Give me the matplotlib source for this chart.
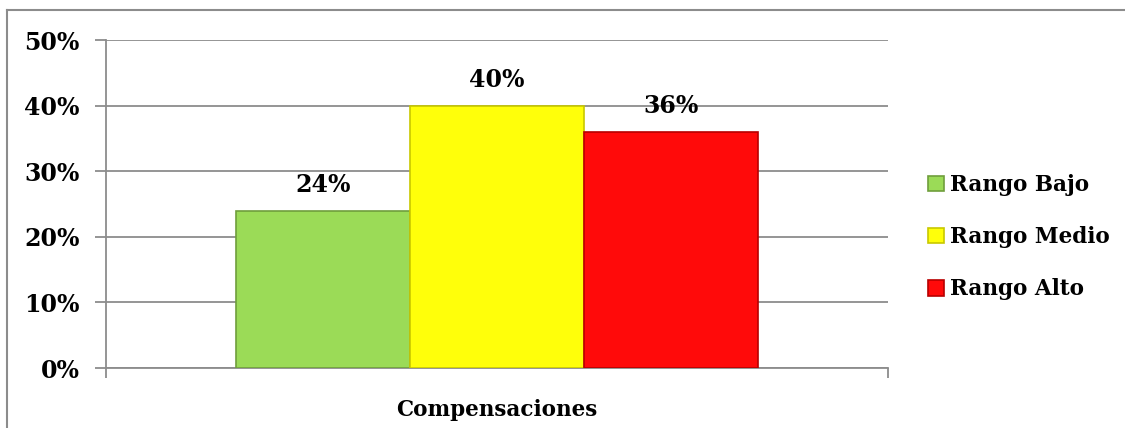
import matplotlib
matplotlib.use("Agg")
import matplotlib.pyplot as plt
from matplotlib.lines import Line2D
from matplotlib.ticker import PercentFormatter

# data
category = "Compensaciones"
series = ["Rango Bajo", "Rango Medio", "Rango Alto"]
values = [0.24, 0.40, 0.36]
colors = ["#9bdb57", "#ffff0a", "#ff0a0a"]
edges = ["#6f9e3c", "#c8c800", "#b80000"]
yticks = [0, 0.1, 0.2, 0.3, 0.4, 0.5]

plt.rcParams["font.family"] = ["DejaVu Serif"]
plt.rcParams["font.weight"] = "bold"
FS_NUM = 17   # tick labels and data labels
FS_TXT = 15.5  # category label and legend

fig = plt.figure(figsize=(11.25, 4.28), dpi=100)
ax = fig.add_axes([0.0942, 0.140, 0.695, 0.7664])

# outer frame (top and left only, like the cropped screenshot)
fig.add_artist(Line2D([7/1125, 1], [1 - 10/428, 1 - 10/428], color="#8c8c8c", lw=1.5))
fig.add_artist(Line2D([7/1125, 7/1125], [0, 1 - 10/428], color="#8c8c8c", lw=1.5))

for i, (name, v) in enumerate(zip(series, values)):
    bars = ax.bar(i - 1, v, width=1.0, color=colors[i], edgecolor=edges[i],
                  linewidth=1.2, label=name, zorder=3)
    ax.bar_label(bars, labels=[f"{v:.0%}"], padding=10, fontsize=FS_NUM,
                 fontweight="bold", color="black")

ax.set_xlim(-2.25, 2.25)
ax.set_ylim(0, 0.5)
ax.set_yticks(yticks)
ax.yaxis.set_major_formatter(PercentFormatter(1.0, decimals=0))
ax.grid(axis="y", color="#8c8c8c", lw=1.3, zorder=0)
ax.set_axisbelow(True)

ax.set_xticks([0])
ax.set_xticklabels([category])
ax.set_xticks([-2.25, 2.25], minor=True)
ax.tick_params(axis="x", which="major", length=0, pad=22, labelsize=FS_TXT)
ax.tick_params(axis="x", which="minor", length=7, color="#8c8c8c", width=1.3)
ax.tick_params(axis="y", length=8, color="#8c8c8c", width=1.3, labelsize=FS_NUM, pad=11)

for s in ["top", "right"]:
    ax.spines[s].set_visible(False)
for s in ["left", "bottom"]:
    ax.spines[s].set_color("#8c8c8c")
    ax.spines[s].set_linewidth(1.3)

fig.legend(loc="center left", bbox_to_anchor=(0.825, 0.446), frameon=False,
           fontsize=FS_TXT, handlelength=0.75, handleheight=0.75, handletextpad=0.25,
           labelspacing=1.4, borderpad=0, borderaxespad=0)

fig.savefig("out.png", dpi=100)
